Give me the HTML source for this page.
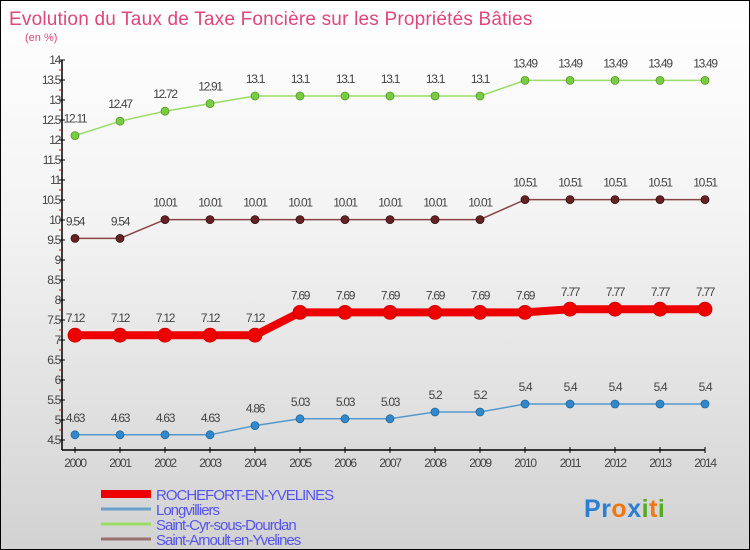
<!DOCTYPE html>
<html><head><meta charset="utf-8"><style>
body{margin:0}
#c{width:748px;height:548px;border:1px solid #000;background:linear-gradient(#fff 0%,#f3f3f3 40%,#d2d2d2 100%);position:relative;overflow:hidden;font-family:"Liberation Sans",sans-serif}
</style></head><body>
<div id="c">
<svg id="s" width="748" height="548" xmlns="http://www.w3.org/2000/svg" font-family="Liberation Sans, sans-serif"></svg>
</div>
<script>
const years=[2000,2001,2002,2003,2004,2005,2006,2007,2008,2009,2010,2011,2012,2013,2014];
const rochefort=[7.12,7.12,7.12,7.12,7.12,7.69,7.69,7.69,7.69,7.69,7.69,7.77,7.77,7.77,7.77];
const longvilliers=[4.63,4.63,4.63,4.63,4.86,5.03,5.03,5.03,5.2,5.2,5.4,5.4,5.4,5.4,5.4];
const saintCyr=[12.11,12.47,12.72,12.91,13.1,13.1,13.1,13.1,13.1,13.1,13.49,13.49,13.49,13.49,13.49];
const saintArnoult=[9.54,9.54,10.01,10.01,10.01,10.01,10.01,10.01,10.01,10.01,10.51,10.51,10.51,10.51,10.51];
const yTicks=[4.5,5,5.5,6,6.5,7,7.5,8,8.5,9,9.5,10,10.5,11,11.5,12,12.5,13,13.5,14];
const seriesNames=["ROCHEFORT-EN-YVELINES","Longvilliers","Saint-Cyr-sous-Dourdan","Saint-Arnoult-en-Yvelines"];

const s=document.getElementById('s');
const NS="http://www.w3.org/2000/svg";
const x=i=>74+i*45;
const y=v=>439-(v-4.5)*40;
function mk(t,a,p){const e=document.createElementNS(NS,t);for(const k in a)e.setAttribute(k,a[k]);(p||s).appendChild(e);return e;}

let t=mk('text',{x:8,y:24,'font-size':19,fill:'#e0457b','letter-spacing':'0.2'});t.textContent='Evolution du Taux de Taxe Foncière sur les Propriétés Bâties';

t=mk('text',{x:24,y:40,'font-size':11,fill:'#e0457b'});t.textContent='(en %)';


let a=mk('line',{x1:61,y1:y(14),x2:61,y2:449,stroke:'#000','stroke-width':1.5});

a=mk('line',{x1:61,y1:449,x2:x(14),y2:449,stroke:'#000','stroke-width':1.5});

yTicks.forEach(v=>{
  mk('line',{x1:58,y1:y(v),x2:64,y2:y(v),stroke:'#000'});
  mk('line',{x1:58,y1:y(v+0.25),x2:61,y2:y(v+0.25),stroke:v<14?'#e00':'none'});
  const l=mk('text',{x:59,y:y(v)+4,'font-size':12,'text-anchor':'end',fill:'#444','letter-spacing':'-1.3'});
  l.textContent=String(v);
  
});
years.forEach((yr,i)=>{
  mk('line',{x1:x(i),y1:446,x2:x(i),y2:452,stroke:'#000'});
  const l=mk('text',{x:x(i),y:466,'font-size':12,'text-anchor':'middle',fill:'#444','letter-spacing':'-1.3'});
  l.textContent=yr;
  
});

function series(vals,color,dot,w,r,name,lbl){
  const g=mk('g',{});
  
  mk('polyline',{points:vals.map((v,i)=>x(i)+','+y(v)).join(' '),fill:'none',stroke:color,'stroke-width':w},g);
  vals.forEach((v,i)=>{
    const c=mk('circle',{cx:x(i),cy:y(v),r:r,fill:dot,stroke:lbl,'stroke-width':0.8},g);
    
    const l=mk('text',{x:x(i),y:y(v)-13,'font-size':12,'text-anchor':'middle',fill:'#444','letter-spacing':'-1.3'},g);
    l.textContent=String(v);
  });
}
series(saintCyr,'#99dd66','#77cc44',1.5,4,'series-saint-cyr','#559922');
series(saintArnoult,'#884444','#662222',1.5,4,'series-saint-arnoult','#331111');
series(rochefort,'#ee0000','#ee0000',8,7,'series-rochefort','#cc0000');
series(longvilliers,'#5599cc','#3388cc',1.5,4,'series-longvilliers','#226699');

const lc=['#ee0000','#6aa0cc','#99dd66','#997070'];
seriesNames.forEach((n,i)=>{
  const ly=493+i*15;
  const g=mk('g',{});
  
  mk('line',{x1:100,y1:ly,x2:150,y2:ly,stroke:lc[i],'stroke-width':i==0?8:3},g);
  const l=mk('text',{x:155,y:ly+6,'font-size':15,fill:'#5555ee','letter-spacing':'-1'},g);
  l.textContent=n;
});
const p=mk('text',{x:583,y:516,'font-size':25,'font-weight':'bold','letter-spacing':'0.5'});

[['P','#2a7fd4'],['r','#2a7fd4'],['o','#ee7711'],['x','#2a7fd4'],['i','#55aa22'],['t','#ee7711'],['i','#55aa22']].forEach(([c,f])=>{const ts=mk('tspan',{fill:f},p);ts.textContent=c;});
</script>
</body></html>
